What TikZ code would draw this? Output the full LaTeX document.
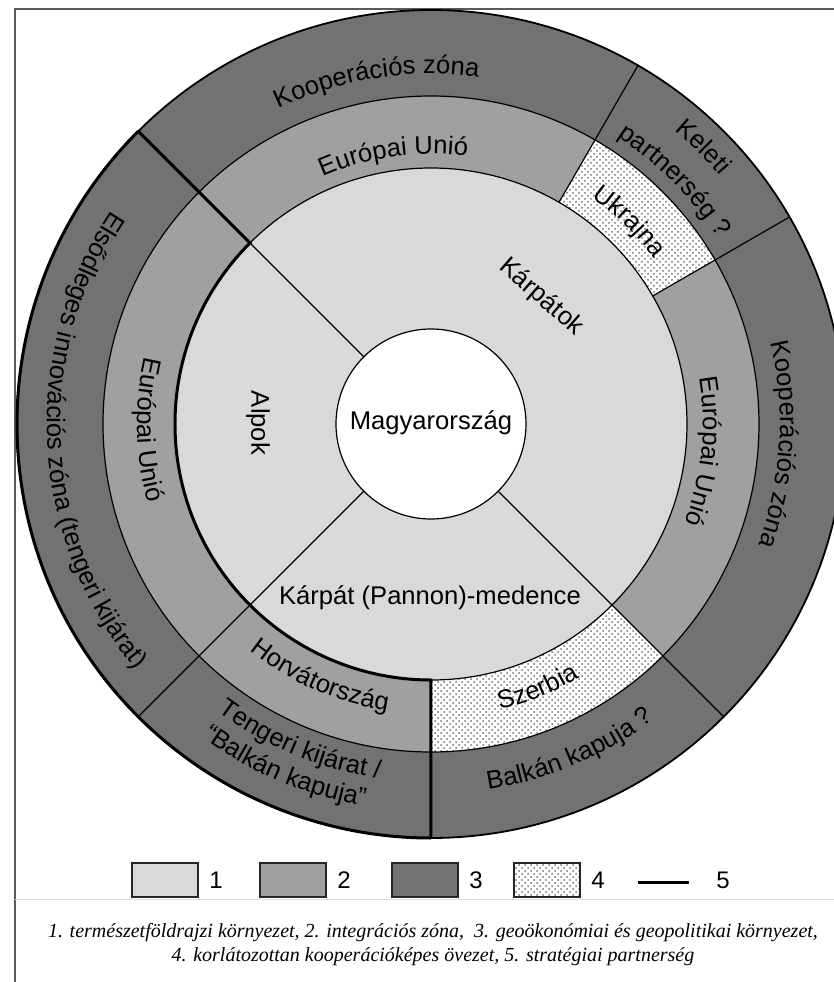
\documentclass[tikz,border=0pt]{standalone}
\usepackage{fontspec}
\setmainfont{Liberation Sans}
\newfontfamily\captionserif{Liberation Serif}
\usetikzlibrary{decorations.text, patterns, positioning}

\definecolor{lightzone}{RGB}{217,217,217}
\definecolor{midzone}{RGB}{160,160,160}
\definecolor{darkzone}{RGB}{114,114,114}
\definecolor{framegray}{RGB}{90,90,90}

\tikzset{
	ring/.style={draw=black, line width=0.6pt},
	partner/.style={draw=black, line width=1.5pt},
	dotzone/.style={preaction={fill=white}, pattern=crosshatch dots, pattern color=black!55},
	legbox/.style={draw=black!85, line width=1.1pt, minimum width=33pt, minimum height=17pt, inner sep=0pt},
	legnum/.style={font=\fontsize{12}{14}\selectfont, inner sep=0pt},
}

\begin{document}
\begin{tikzpicture}[x=0.5pt, y=0.5pt]
		\useasboundingbox (-431,-558) rectangle (403,424);
		\def\lbl{\fontsize{12.8}{15}\selectfont}
		% text along the ring, tops outward / tops inward
		\def\outarc#1#2#3{\path[decorate, decoration={text along path, text align=center, text={|\lbl|#3}}] (#1+60:#2) arc[start angle=#1+60, end angle=#1-60, radius=#2];}
		\def\inarc#1#2#3{\path[decorate, decoration={text along path, text align=center, text={|\lbl|#3}}] (#1-60:#2) arc[start angle=#1-60, end angle=#1+60, radius=#2];}

		% frame
		\draw[framegray, line width=1pt] (-416,-558) -- (-416,415) -- (403,415);
		\draw[black!12, line width=0.5pt] (-416,-475) -- (403,-475);

		% rings
		\fill[darkzone] (0,0) circle[radius=414];
		\fill[midzone] (0,0) circle[radius=328];
		\fill[dotzone] (30:256) arc[start angle=30, end angle=60, radius=256] -- (60:328) arc[start angle=60, end angle=30, radius=328] -- cycle;
		\fill[dotzone] (270:256) arc[start angle=270, end angle=315, radius=256] -- (315:328) arc[start angle=315, end angle=270, radius=328] -- cycle;
		\fill[lightzone] (0,0) circle[radius=256];
		\draw[ring, fill=white] (0,0) circle[radius=95];
		\foreach \r in {256, 328} {
			\draw[ring] (0,0) circle[radius=\r];
		}
		\draw[black, line width=0.9pt] (0,0) circle[radius=414];
		\foreach \a in {30, 60} {
			\draw[ring] (\a:256) -- (\a:414);
		}
		\draw[ring] (135:95) -- (135:256);
		\foreach \a in {225, 315} {
			\draw[ring] (\a:95) -- (\a:414);
		}
		% strategic partnership
		\draw[partner] (135:414) -- (135:256) arc[start angle=135, end angle=270, radius=256] -- (270:414);
		\draw[partner] (135:414) arc[start angle=135, end angle=270, radius=414];

		% inner labels
		\node[font=\lbl] (hu) at (0,1) {Magyarország};
		\node[font=\lbl, rotate=-90] (alpok) at (-173,1) {Alpok};
		\node[font=\lbl, rotate=-41] (karpatok) at (49:168) {Kárpátok};
		\node[font=\lbl] (medence) at (-1,-174) {Kárpát (Pannon)-medence};

		% ring labels
		\outarc{99}{350}{Kooperációs zóna}
		\outarc{98}{270}{Európai Unió}
		\outarc{45.5}{381}{Keleti}
		\outarc{45}{342}{partnerség ?}
		\outarc{45.6}{278}{Ukrajna}
		\outarc{-3.4}{349}{Kooperációs zóna}
		\outarc{-5.7}{272}{Európai Unió}
		\inarc{181.2}{294}{Európai Unió}
		\inarc{183}{384}{Elsődleges innovációs zóna (tengeri kijárat)}
		\inarc{246.3}{290}{Horvátország}
		\inarc{292}{294}{Szerbia}
		\inarc{247.6}{358}{Tengeri kijárat /}
		\inarc{247}{388}{“Balkán kapuja”}
		\inarc{293}{370}{Balkán kapuja ?}

		% legend
		\foreach \i/\x/\f in {1/-266/lightzone, 2/-138/midzone, 3/-6/darkzone} {
			\node[legbox, fill=\f] (box\i) at (\x,-456) {};
			\node[legnum, right=5pt of box\i] (num\i) {\i};
		}
		\node[legbox, dotzone] (box4) at (116,-456) {};
		\node[legnum, right=5pt of box4] (num4) {4};
		\node[legnum] (num5) at (292,-456) {5};
		\coordinate (line5a) at (207,-458);
		\coordinate (line5b) at (258,-458);
		\draw[partner] (line5a) -- (line5b);

		\node[font=\captionserif\itshape\fontsize{10}{12}\selectfont, align=center] (caption) at (2,-521) {1. természetföldrajzi környezet, 2. integrációs zóna,\ \ 3. geoökonómiai és geopolitikai környezet,\\ 4. korlátozottan kooperációképes övezet, 5. stratégiai partnerség};
	\end{tikzpicture}
\end{document}
